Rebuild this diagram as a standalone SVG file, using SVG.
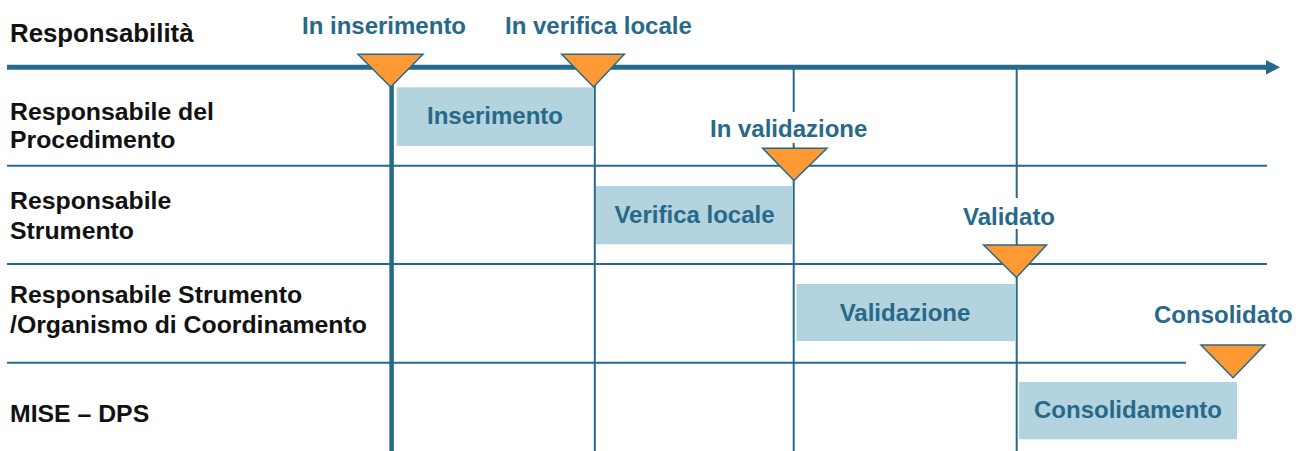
<svg xmlns="http://www.w3.org/2000/svg" width="1299" height="451" viewBox="0 0 1299 451">
  <style>
    .lbl { font-family: "Liberation Sans", Arial, Helvetica, sans-serif; font-weight: bold; font-size: 24.8px; fill: #111111; }
    .st { font-family: "Liberation Sans", Arial, Helvetica, sans-serif; font-weight: bold; font-size: 24px; fill: #27698A; }
    .bt { font-family: "Liberation Sans", Arial, Helvetica, sans-serif; font-weight: bold; font-size: 24px; fill: #27698A; text-anchor: middle; }
    .row { stroke: #26698A; stroke-width: 2; fill: none; }
    .vline { stroke: #26698A; stroke-width: 2; fill: none; }
    .box { fill: #B3D3DE; }
    .tri { fill: #FF9933; stroke: #26698A; stroke-width: 1.5; stroke-linejoin: miter; }
  </style>
  <rect x="0" y="0" width="1299" height="451" fill="#FFFFFF"/>

  <g id="connectors">
    <line x1="7" y1="67.3" x2="1267" y2="67.3" stroke="#26698A" stroke-width="5"/>
    <polygon points="1266,60 1280,67.3 1266,74.6" fill="#26698A"/>
    <line class="row" x1="7" y1="165.7" x2="1267" y2="165.7"/>
    <line class="row" x1="7" y1="264" x2="1267" y2="264"/>
    <line class="row" x1="7" y1="362.7" x2="1186" y2="362.7"/>
    <line x1="391.6" y1="67" x2="391.6" y2="451" stroke="#26698A" stroke-width="4.5"/>
    <line class="vline" x1="594.8" y1="67" x2="594.8" y2="451"/>
    <line class="vline" x1="793.7" y1="67" x2="793.7" y2="112"/>
    <line class="vline" x1="793.7" y1="143" x2="793.7" y2="451"/>
    <line class="vline" x1="1016.7" y1="67" x2="1016.7" y2="198"/>
    <line class="vline" x1="1016.7" y1="229" x2="1016.7" y2="451"/>
  </g>

  <g id="row-labels">
    <text class="lbl" x="10" y="42" style="font-size:25.8px">Responsabilità</text>
    <text class="lbl" x="10" y="120">Responsabile del</text>
    <text class="lbl" x="10" y="148">Procedimento</text>
    <text class="lbl" x="10" y="209">Responsabile</text>
    <text class="lbl" x="10" y="239">Strumento</text>
    <text class="lbl" x="10" y="303">Responsabile Strumento</text>
    <text class="lbl" x="10" y="333">/Organismo di Coordinamento</text>
    <text class="lbl" x="10" y="422">MISE – DPS</text>
  </g>

  <g id="inserimento">
    <rect class="box" x="396.7" y="87.3" width="197.3" height="58.7"/>
    <text class="bt" x="495" y="124">Inserimento</text>
  </g>
  <g id="verifica-locale">
    <rect class="box" x="596" y="186" width="197" height="58.3"/>
    <text class="bt" x="694.5" y="222.5">Verifica locale</text>
  </g>
  <g id="validazione">
    <rect class="box" x="796.5" y="284" width="219.5" height="57"/>
    <text class="bt" x="905" y="321">Validazione</text>
  </g>
  <g id="consolidamento">
    <rect class="box" x="1019" y="382" width="218" height="57.3"/>
    <text class="bt" x="1128" y="418">Consolidamento</text>
  </g>

  <g id="ms-in-inserimento">
    <text class="st" x="302" y="34">In inserimento</text>
    <polygon class="tri" points="358,54.3 423,54.3 390.7,87"/>
  </g>
  <g id="ms-in-verifica-locale">
    <text class="st" x="505" y="34">In verifica locale</text>
    <polygon class="tri" points="561.7,54.3 624.3,54.3 593.5,87"/>
  </g>
  <g id="ms-in-validazione">
    <text class="st" x="710" y="137">In validazione</text>
    <polygon class="tri" points="762.7,148.3 827,148.3 794,180.5"/>
  </g>
  <g id="ms-validato">
    <text class="st" x="963" y="225">Validato</text>
    <polygon class="tri" points="983.6,245 1046.5,245 1016.5,277.5"/>
  </g>
  <g id="ms-consolidato">
    <text class="st" x="1154" y="323">Consolidato</text>
    <polygon class="tri" points="1201,345 1264.7,345 1233,377.7"/>
  </g>
</svg>
